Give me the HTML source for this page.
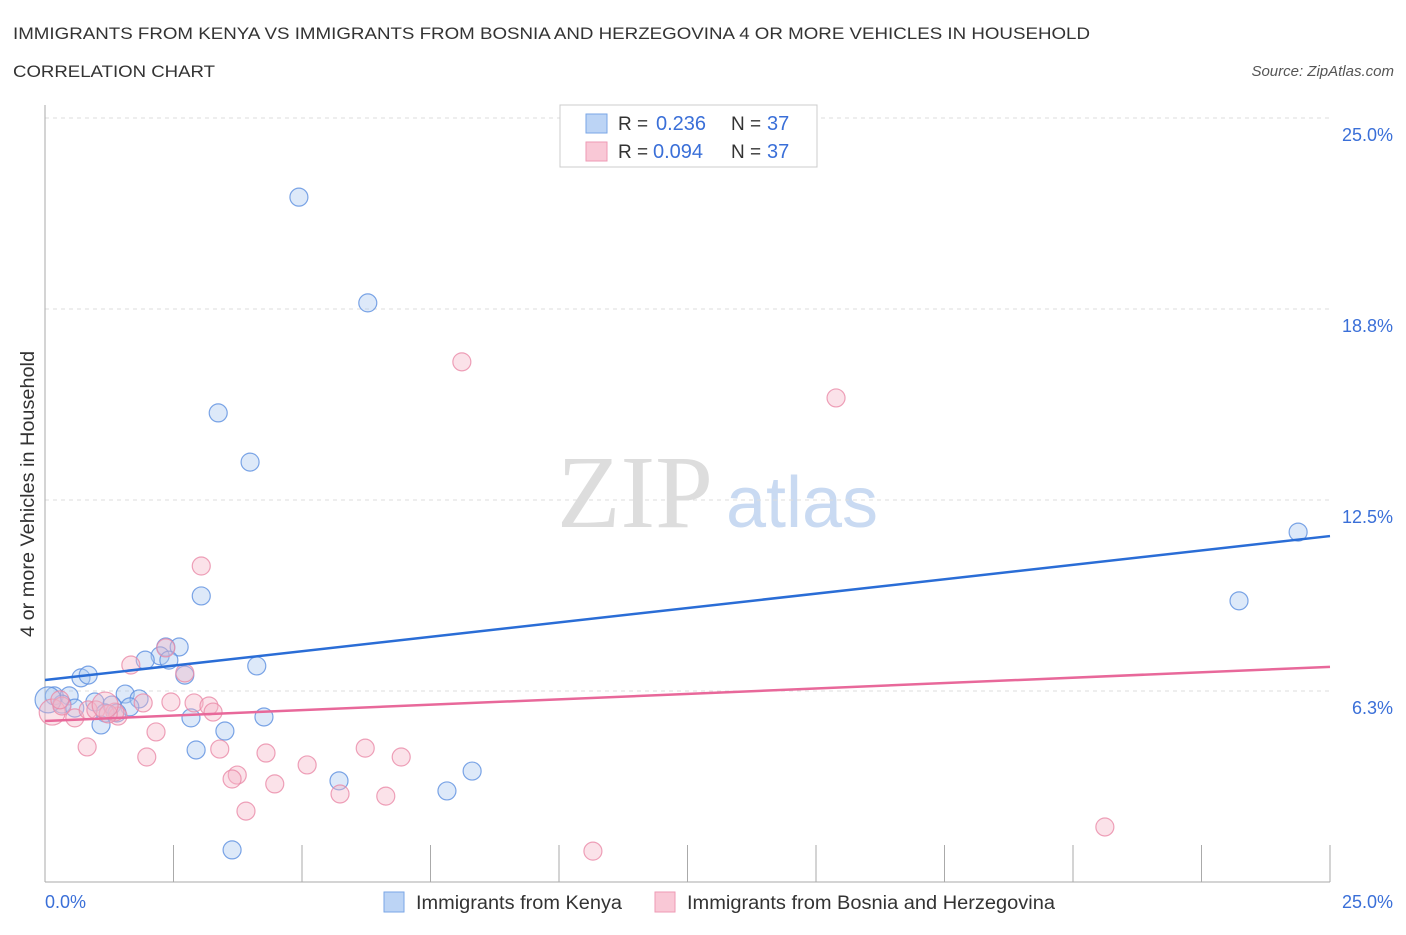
<!DOCTYPE html>
<html><head><meta charset="utf-8"><style>
body{margin:0;background:#fff;font-family:"Liberation Sans",sans-serif;}
</style></head><body>
<svg id="chart" width="1406" height="930" xmlns="http://www.w3.org/2000/svg" font-family="Liberation Sans, sans-serif">
<text x="13" y="39" font-size="17" fill="#333" textLength="1077" lengthAdjust="spacingAndGlyphs">IMMIGRANTS FROM KENYA VS IMMIGRANTS FROM BOSNIA AND HERZEGOVINA 4 OR MORE VEHICLES IN HOUSEHOLD</text>
<text x="13" y="77" font-size="17" fill="#333" textLength="202" lengthAdjust="spacingAndGlyphs">CORRELATION CHART</text>
<text x="1394" y="76" font-size="15" fill="#555" text-anchor="end" font-style="italic">Source: ZipAtlas.com</text>
<g>
<text x="635" y="527" font-size="104" font-family="Liberation Serif, serif" fill="#ddd" text-anchor="middle">ZIP</text>
<text x="802" y="527" font-size="72" fill="#c9daf2" text-anchor="middle">atlas</text>
</g>
<g id="grid"></g>
<g id="axes"></g>
<g id="marks"></g>
<text transform="translate(34,494) rotate(-90)" font-size="19" fill="#333" text-anchor="middle" textLength="286" lengthAdjust="spacingAndGlyphs">4 or more Vehicles in Household</text>
<g>
<rect x="560" y="105" width="257" height="62" fill="#fff" stroke="#ccc"/>
<rect x="586" y="114" width="21" height="19" fill="#bcd4f5" stroke="#7aa6e6"/>
<rect x="586" y="142" width="21" height="19" fill="#f9c8d6" stroke="#ee9ab4"/>
<text x="618" y="130" font-size="19" fill="#333">R = </text><text x="656" y="130" font-size="20" fill="#3a6fd8">0.236</text>
<text x="731" y="130" font-size="19" fill="#333">N = </text><text x="767" y="130" font-size="20" fill="#3a6fd8">37</text>
<text x="618" y="158" font-size="19" fill="#333">R = </text><text x="653" y="158" font-size="20" fill="#3a6fd8">0.094</text>
<text x="731" y="158" font-size="19" fill="#333">N = </text><text x="767" y="158" font-size="20" fill="#3a6fd8">37</text>
</g>
<g>
<rect x="384" y="892" width="20" height="20" fill="#bcd4f5" stroke="#7aa6e6"/>
<text x="416" y="909" font-size="19" fill="#333" textLength="206" lengthAdjust="spacingAndGlyphs">Immigrants from Kenya</text>
<rect x="655" y="892" width="20" height="20" fill="#f9c8d6" stroke="#ee9ab4"/>
<text x="687" y="909" font-size="19" fill="#333" textLength="368" lengthAdjust="spacingAndGlyphs">Immigrants from Bosnia and Herzegovina</text>
</g>
</svg>
<script>
const yTicks=[6.25,12.5,18.75,25];
const yTickLabels=["6.3%","12.5%","18.8%","25.0%"];
const kenyaX=[4.94,6.28,3.37,3.99,24.38,23.23,3.04,2.35,2.61,2.24,2.41,1.95,4.12,2.72,0.70,0.84,0.18,0.47,0.97,1.56,1.83,0.33,0.58,1.30,1.65,1.40,1.17,2.84,4.26,1.09,3.50,2.94,8.31,5.72,7.82,3.64,0.06];
const kenyaY=[22.41,18.95,15.35,13.74,11.45,9.20,9.36,7.69,7.69,7.40,7.26,7.26,7.07,6.77,6.68,6.77,6.09,6.09,5.89,6.15,5.99,5.82,5.69,5.79,5.73,5.53,5.53,5.37,5.40,5.14,4.94,4.32,3.63,3.31,2.98,1.05,5.96];
const bosniaX=[8.11,15.39,3.04,1.67,2.35,2.72,0.14,0.33,0.58,0.84,0.99,1.91,2.45,2.90,3.19,3.27,1.42,2.16,0.82,1.98,3.40,4.30,3.74,3.64,5.10,6.23,6.93,4.47,5.74,6.63,3.91,20.62,10.66,1.36,1.23,0.29,1.17];
const bosniaY=[17.02,15.84,10.34,7.10,7.66,6.84,5.56,5.76,5.37,5.63,5.63,5.86,5.89,5.86,5.76,5.56,5.43,4.91,4.42,4.09,4.35,4.22,3.50,3.37,3.83,4.38,4.09,3.21,2.88,2.81,2.32,1.80,1.01,5.56,5.50,5.96,5.79];
const kenyaTrend=[6.61,11.32];
const bosniaTrend=[5.27,7.04];
const X0=45,X1=1330,Y0=882,Y1=118;
const sx=v=>X0+(X1-X0)*v/25, sy=v=>Y0-(Y0-Y1)*v/25;
const NS="http://www.w3.org/2000/svg";
function mk(parent,tag,attrs){const e=document.createElementNS(NS,tag);for(const k in attrs)e.setAttribute(k,attrs[k]);document.getElementById(parent).appendChild(e);return e;}
yTicks.forEach((t,i)=>{
 const g=mk('grid','line',{x1:X0,x2:X1,y1:sy(t),y2:sy(t),stroke:'#ddd','stroke-dasharray':'4,4'});
 
 
 const l=mk('grid','text',{x:1393,y:sy(t)+23,'font-size':18,fill:'#3a6fd8','text-anchor':'end'});l.textContent=yTickLabels[i];
 
 
});
const ya=mk('axes','line',{x1:X0,x2:X0,y1:105,y2:Y0,stroke:'#aaa'});


const xa=mk('axes','line',{x1:X0,x2:X1,y1:Y0,y2:Y0,stroke:'#aaa'});


for(let i=0;i<=10;i++){const t=mk('axes','line',{x1:sx(i*2.5),x2:sx(i*2.5),y1:845,y2:Y0,stroke:'#aaa'});
 
 }
const xl0=mk('axes','text',{x:45,y:908,'font-size':18,fill:'#3a6fd8'});xl0.textContent='0.0%';


const xl1=mk('axes','text',{x:1393,y:908,'font-size':18,fill:'#3a6fd8','text-anchor':'end'});xl1.textContent='25.0%';


function pts(xs,ys,fill,stroke,name){xs.forEach((x,i)=>{
 const r=(i===xs.length-1||(name==='bosnia-point'&&i===6))?13:9;
 const c=mk('marks','circle',{cx:sx(x),cy:sy(ys[i]),r:r,fill:fill,'fill-opacity':0.4,stroke:stroke,'stroke-width':1.2,'stroke-opacity':0.8});
 
 
});}
pts(kenyaX,kenyaY,'#a9c7f0','#5b8ee0','kenya-point');
pts(bosniaX,bosniaY,'#f6b6c9','#ea8aa8','bosnia-point');
const t1=mk('marks','line',{x1:X0,x2:X1,y1:sy(kenyaTrend[0]),y2:sy(kenyaTrend[1]),stroke:'#2a6dd6','stroke-width':2.5});


const t2=mk('marks','line',{x1:X0,x2:X1,y1:sy(bosniaTrend[0]),y2:sy(bosniaTrend[1]),stroke:'#e8689a','stroke-width':2.5});


</script>
</body></html>
